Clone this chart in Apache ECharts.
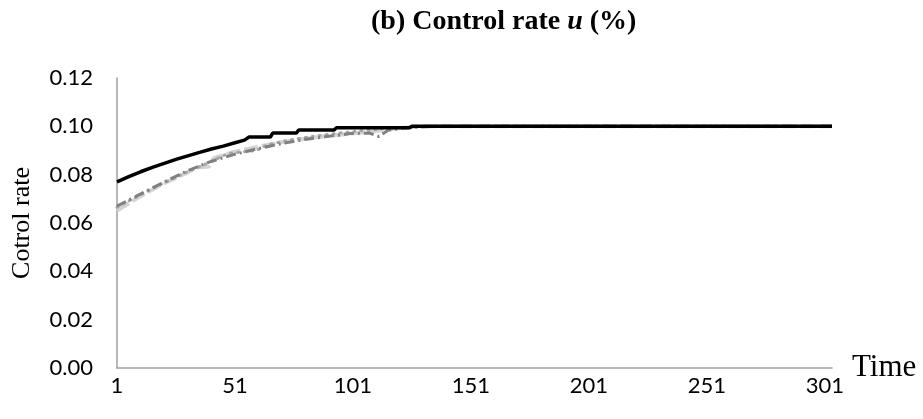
<!DOCTYPE html>
<html>
<head>
<meta charset="utf-8">
<script src="https://cdn.jsdelivr.net/npm/echarts@6/dist/echarts.min.js"></script>
<style>
    html, body { margin: 0; padding: 0; background: #fff; }
    #control-rate-chart { width: 923px; height: 419px; }
</style>
</head>
<body>
<div id="control-rate-chart"></div>
<script>
// time step (1-based) and control rate
const blackT = [1, 6, 11, 16, 21, 26, 31, 36, 41, 46, 51, 55, 57, 66, 67, 77, 78, 93, 94, 125, 126, 304];
const blackV = [0.0770, 0.0792, 0.0812, 0.0830, 0.0847, 0.0863, 0.0878, 0.0892, 0.0906, 0.0918, 0.0932, 0.0943, 0.0956, 0.0956, 0.0972, 0.0972, 0.0985, 0.0985, 0.0994, 0.0994, 0.1000, 0.1000];

const dashDotT = [1, 10, 20, 30, 40, 50, 60, 70, 80, 90, 100, 108, 112, 116, 125, 135, 304];
const dashDotV = [0.0670, 0.0715, 0.0765, 0.0812, 0.0852, 0.0882, 0.0906, 0.0927, 0.0945, 0.0958, 0.0970, 0.0972, 0.0958, 0.0985, 0.0995, 0.1000, 0.1000];

const lightT = [1, 10, 20, 30, 35, 40, 42, 50, 60, 70, 80, 90, 100, 110, 120, 130, 304];
const lightV = [0.0652, 0.0705, 0.0760, 0.0805, 0.0830, 0.0834, 0.0868, 0.0893, 0.0914, 0.0933, 0.0948, 0.0960, 0.0970, 0.0980, 0.0992, 0.1000, 0.1000];

const dottedT = [1, 10, 20, 30, 40, 48, 55, 60, 65, 75, 85, 95, 105, 115, 125, 130, 304];
const dottedV = [0.0665, 0.0712, 0.0762, 0.0808, 0.0850, 0.0888, 0.0895, 0.0900, 0.0925, 0.0945, 0.0960, 0.0972, 0.0982, 0.0990, 0.0998, 0.1000, 0.1000];

const xTickLabels = ['1', '51', '101', '151', '201', '251', '301'];

// x axis runs in (t - 1) so ticks fall on 1, 51, 101 ...
function toPoints(ts, vs) {
    let pts = [];
    for (let i = 0; i < ts.length; i++) {
        pts.push([ts[i] - 1, vs[i]]);
    }
    return pts;
}

const tickFont = 'Lato, "Open Sans", sans-serif';
const serifFont = '"Liberation Serif", "DejaVu Serif", serif';

let chart = echarts.init(document.getElementById('control-rate-chart'));
chart.setOption({
    animation: false,
    title: {
        text: '(b) Control rate {i|u} (%)',
        left: 366,
        top: 3,
        textStyle: {
            fontFamily: serifFont,
            fontWeight: 'bold',
            fontSize: 28,
            color: '#000',
            rich: {
                i: { fontFamily: serifFont, fontWeight: 'bold', fontStyle: 'italic', fontSize: 28, color: '#000' }
            }
        }
    },
    grid: {
        left: 117,
        right: 91,
        top: 78,
        bottom: 51
    },
    xAxis: {
        type: 'value',
        min: 0,
        max: 303,
        interval: 50,
        name: 'Time',
        nameLocation: 'end',
        nameGap: 20,
        nameTextStyle: {
            fontFamily: serifFont,
            fontSize: 31,
            color: '#000',
            verticalAlign: 'middle',
            padding: [0, 0, 6, 0]
        },
        axisLine: { lineStyle: { color: '#a0a0a0', width: 1.5 } },
        axisTick: { show: false },
        splitLine: { show: false },
        axisLabel: {
            margin: 7,
            fontFamily: tickFont,
            fontSize: 22,
            color: '#000',
            formatter: function (value) {
                return xTickLabels[Math.round(value / 50)] || '';
            }
        }
    },
    yAxis: {
        type: 'value',
        min: 0,
        max: 0.12,
        interval: 0.02,
        name: 'Cotrol rate',
        nameLocation: 'middle',
        nameGap: 82,
        nameTextStyle: {
            fontFamily: serifFont,
            fontSize: 26,
            color: '#000'
        },
        axisLine: { show: true, lineStyle: { color: '#a0a0a0', width: 1.5 } },
        axisTick: { show: false },
        splitLine: { show: false },
        axisLabel: {
            margin: 24,
            fontFamily: tickFont,
            fontSize: 22,
            color: '#000',
            formatter: function (value) {
                return value.toFixed(2);
            }
        }
    },
    series: [
        {
            name: 'light',
            type: 'line',
            symbol: 'none',
            data: toPoints(lightT, lightV),
            lineStyle: { color: '#d3d3d3', width: 4, type: [14, 4] }
        },
        {
            name: 'dotted',
            type: 'line',
            symbol: 'none',
            data: toPoints(dottedT, dottedV),
            lineStyle: { color: '#a6a6a6', width: 3, type: [1, 6], cap: 'round' }
        },
        {
            name: 'dashdot',
            type: 'line',
            symbol: 'none',
            data: toPoints(dashDotT, dashDotV),
            lineStyle: { color: '#808080', width: 3, type: [10, 4, 2, 4] }
        },
        {
            name: 'black',
            type: 'line',
            symbol: 'none',
            data: toPoints(blackT, blackV),
            lineStyle: { color: '#000', width: 3.5 }
        }
    ]
});
</script>
</body>
</html>
